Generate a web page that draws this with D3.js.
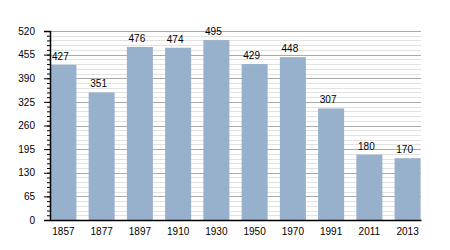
<!DOCTYPE html>
<html>
<head>
<meta charset="utf-8">
<script src="https://cdn.jsdelivr.net/npm/d3@7"></script>
<style>
  body { margin: 0; background: #fff; }
  text { font-family: "Liberation Sans", Arial, sans-serif; font-size: 10px; fill: #000; }
</style>
</head>
<body>
<div id="chart"></div>
<script>
const years = ["1857", "1877", "1897", "1910", "1930", "1950", "1970", "1991", "2011", "2013"];
const population = [427, 351, 476, 474, 495, 429, 448, 307, 180, 170];
const majorTicks = [0, 65, 130, 195, 260, 325, 390, 455, 520];
const minorTicks = d3.range(0, 521, 13);

const width = 450;
const height = 250;
const margin = { top: 31, right: 29, bottom: 30, left: 50 };

const svg = d3
  .select("#chart")
  .append("svg")
  .attr("width", width)
  .attr("height", height);

const x = d3
  .scaleBand()
  .domain(years)
  .range([margin.left, width - margin.right])
  .paddingInner(0.32)
  .paddingOuter(0.01);

const y = d3
  .scaleLinear()
  .domain([0, 520])
  .range([height - margin.bottom, margin.top]);

// minor gridlines
svg
  .append("g")
  .selectAll("line")
  .data(minorTicks)
  .enter()
  .append("line")
  .attr("x1", margin.left)
  .attr("x2", width - margin.right)
  .attr("y1", (d) => Math.round(y(d)) + 0.5)
  .attr("y2", (d) => Math.round(y(d)) + 0.5)
  .attr("stroke", "#e2e2e2");

// major gridlines
svg
  .append("g")
  .selectAll("line")
  .data(majorTicks)
  .enter()
  .append("line")
  .attr("x1", margin.left)
  .attr("x2", width - margin.right)
  .attr("y1", (d) => Math.round(y(d)) + 0.5)
  .attr("y2", (d) => Math.round(y(d)) + 0.5)
  .attr("stroke", "#aaaaaa");

svg
  .append("g")
  .selectAll("rect")
  .data(population)
  .enter()
  .append("rect")
  .attr("x", (d, i) => x(years[i]))
  .attr("width", x.bandwidth())
  .attr("y", (d) => y(d))
  .attr("height", (d) => y(0) - y(d))
  .attr("fill", "#97b0cb");

svg
  .append("g")
  .selectAll("text")
  .data(population)
  .enter()
  .append("text")
  .attr("x", (d, i) => x(years[i]) + x.bandwidth() / 2 - 3)
  .attr("y", (d) => y(d) - 5)
  .attr("text-anchor", "middle")
  .text((d) => d);

// y axis: minor ticks
svg
  .append("g")
  .attr("transform", `translate(${margin.left},0)`)
  .call(d3.axisLeft(y).tickValues(minorTicks).tickSize(3).tickFormat(""))
  .call((g) => g.select(".domain").remove());

// y axis: major ticks
svg
  .append("g")
  .attr("transform", `translate(${margin.left},0)`)
  .call(d3.axisLeft(y).tickValues(majorTicks).tickSize(6).tickPadding(9))
  .call((g) => g.selectAll("text").style("font-size", "10px"))
  .call((g) => g.select(".domain").attr("stroke-width", 1.5));

// x axis
svg
  .append("g")
  .attr("transform", `translate(0,${y(0)})`)
  .call(d3.axisBottom(x).tickSize(0).tickPadding(8))
  .call((g) => g.selectAll("text").style("font-size", "10px"))
  .call((g) => g.select(".domain").attr("stroke-width", 1.5));
</script>
</body>
</html>
